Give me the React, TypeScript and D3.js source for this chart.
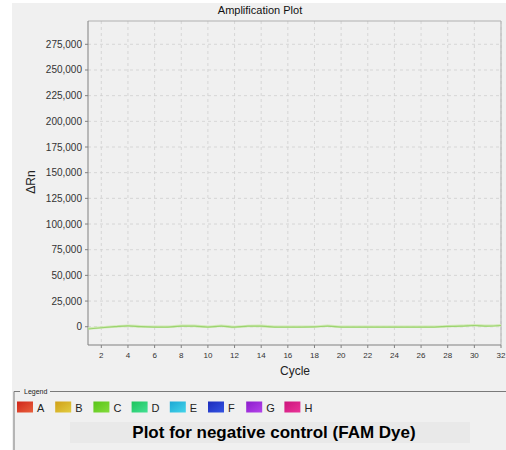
import React from "react";
import * as d3 from "d3";

const cycles = [1,2,3,4,5,6,7,8,9,10,11,12,13,14,15,16,17,18,19,20,21,22,23,24,25,26,27,28,29,30,31,32];
const deltaRnA = [-2200,-1000,0,800,0,-300,-300,600,600,-300,600,-400,500,600,-300,-300,-300,-200,600,-300,-300,-300,-300,-300,-300,-300,-300,300,500,1200,600,1200];
const deltaRnB = [-1800,-700,200,1000,200,-100,-100,900,800,-100,900,-200,700,800,-100,-100,-100,0,900,-100,-100,-100,-100,-100,-100,-100,-100,500,800,1500,900,1500];
const yTicks = [0,25000,50000,75000,100000,125000,150000,175000,200000,225000,250000,275000];
const xTicks = [2,4,6,8,10,12,14,16,18,20,22,24,26,28,30,32];
const legendLabels = ["A","B","C","D","E","F","G","H"];
const legendColors: [string,string][] = [
  ["#d0261a","#e8603c"],["#d0a018","#e2cc40"],["#58c418","#84dc3c"],["#1cc45c","#44e094"],
  ["#1ca8d4","#44d4ea"],["#1c2cbc","#3454e2"],["#8c1ccc","#b444ea"],["#cc147c","#ea3498"]
];

const W = 506, H = 450;
const L = 88, R = 501, T = 21, B = 345;

export default function App() {
  const x = d3.scaleLinear().domain([1, 32]).range([L, R]);
  const y = d3.scaleLinear().domain([-17800, 297700]).range([B, T]);
  const line = d3.line<number>().x((_, i) => x(cycles[i])).y(d => y(d)).curve(d3.curveMonotoneX);
  const font = "'Liberation Sans', Arial, sans-serif";
  const legendX = (i: number) => 17 + i * 38.2;
  return (
    <svg width={W} height={H} style={{ position: "absolute", left: 0, top: 0 }} fontFamily={font}>
      <defs>
        {legendColors.map((c, i) => (
          <linearGradient key={i} id={"lg" + i} x1="0" y1="0" x2="1" y2="1">
            <stop offset="0" stopColor={c[0]} />
            <stop offset="1" stopColor={c[1]} />
          </linearGradient>
        ))}
      </defs>
      <rect x={0} y={0} width={W} height={H} fill="#ffffff" />
      <rect x={12} y={3} width={W - 12} height={H - 3} fill="#f0f0f0" />
      <text x={260} y={14} fontSize={11} textAnchor="middle" fill="#111">Amplification Plot</text>
      {/* grid */}
      {xTicks.map(t => (
        <line key={"gx" + t} x1={x(t)} x2={x(t)} y1={T} y2={B} stroke="#cfcfcf" strokeDasharray="3,3" strokeWidth={0.8} />
      ))}
      {yTicks.map(t => (
        <line key={"gy" + t} x1={L} x2={R} y1={y(t)} y2={y(t)} stroke="#cfcfcf" strokeDasharray="3,3" strokeWidth={0.8} />
      ))}
      {/* border */}
      <line x1={L} x2={R} y1={T} y2={T} stroke="#b0b0b0" />
      <line x1={R} x2={R} y1={T} y2={B} stroke="#b0b0b0" />
      <line x1={L} x2={L} y1={T} y2={B} stroke="#808080" />
      <line x1={L} x2={R} y1={B} y2={B} stroke="#808080" />
      {/* y ticks */}
      {yTicks.map(t => (
        <g key={"yt" + t}>
          <line x1={L - 3} x2={L} y1={y(t)} y2={y(t)} stroke="#808080" />
          <text x={82} y={y(t) + 3.5} fontSize={10} textAnchor="end" fill="#333">{d3.format(",")(t)}</text>
        </g>
      ))}
      {xTicks.map(t => (
        <g key={"xt" + t}>
          <line x1={x(t)} x2={x(t)} y1={B} y2={B + 3} stroke="#808080" />
          <text x={x(t)} y={B + 13} fontSize={8} textAnchor="middle" fill="#333">{t}</text>
        </g>
      ))}
      <text x={295} y={375} fontSize={12} textAnchor="middle" fill="#222">Cycle</text>
      <text transform={`translate(35,182) rotate(-90)`} fontSize={12} textAnchor="middle" fill="#222">ΔRn</text>
      {/* data */}
      <path d={line(deltaRnB) || ""} fill="none" stroke="#cce9ad" strokeWidth={2.6} strokeOpacity={0.85} />
      <path d={line(deltaRnA) || ""} fill="none" stroke="#9bd46f" strokeWidth={1.2} />
      {/* legend */}
      <path d={`M14,${H} V391.5 H20`} fill="none" stroke="#7a7a7a" strokeWidth={1} />
      <line x1={50} x2={W} y1={391.5} y2={391.5} stroke="#7a7a7a" strokeWidth={1} />
      <text x={24} y={394} fontSize={7} fill="#222">Legend</text>
      {legendLabels.map((lab, i) => (
        <g key={lab}>
          <rect x={legendX(i)} y={401.5} width={16} height={11} fill={`url(#lg${i})`} />
          <text x={legendX(i) + 20} y={412} fontSize={11} fill="#222">{lab}</text>
        </g>
      ))}
      <rect x={70} y={422} width={400} height={21} fill="#e9e9e9" />
      <text x={274} y={438} fontSize={17} fontWeight="bold" textAnchor="middle" fill="#000">Plot for negative control (FAM Dye)</text>
    </svg>
  );
}
